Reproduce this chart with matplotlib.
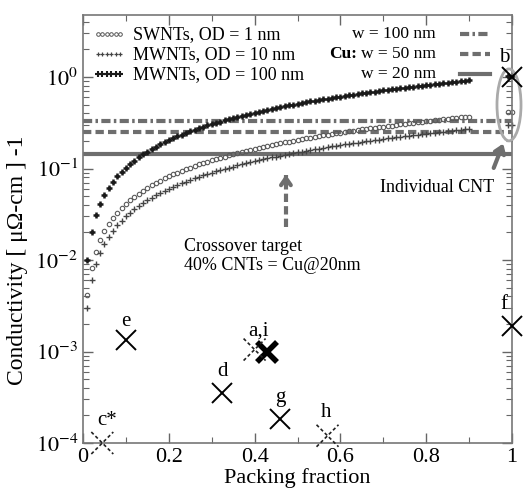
import numpy as np
import matplotlib
matplotlib.use('Agg')
import matplotlib.pyplot as plt
from matplotlib.patches import Ellipse

plt.rcParams['font.family'] = ['Liberation Serif', 'DejaVu Serif']
plt.rcParams['mathtext.fontset'] = 'stix'

# packing fraction of the modelled bundles
packing = [0.01, 0.02, 0.03, 0.04, 0.05, 0.06, 0.07, 0.08, 0.09, 0.10,
           0.11, 0.12, 0.13, 0.14, 0.15, 0.16, 0.17, 0.18, 0.19, 0.20,
           0.21, 0.22, 0.23, 0.24, 0.25, 0.26, 0.27, 0.28, 0.29, 0.30,
           0.31, 0.32, 0.33, 0.34, 0.35, 0.36, 0.37, 0.38, 0.39, 0.40,
           0.41, 0.42, 0.43, 0.44, 0.45, 0.46, 0.47, 0.48, 0.49, 0.50,
           0.51, 0.52, 0.53, 0.54, 0.55, 0.56, 0.57, 0.58, 0.59, 0.60,
           0.61, 0.62, 0.63, 0.64, 0.65, 0.66, 0.67, 0.68, 0.69, 0.70,
           0.71, 0.72, 0.73, 0.74, 0.75, 0.76, 0.77, 0.78, 0.79, 0.80,
           0.81, 0.82, 0.83, 0.84, 0.85, 0.86, 0.87, 0.88, 0.89, 0.90]

swnt_1nm = [0.0041, 0.0082, 0.0123, 0.0164, 0.0205, 0.0246, 0.0287, 0.0328, 0.0369, 0.041,
            0.0451, 0.0492, 0.0533, 0.0574, 0.0615, 0.0656, 0.0697, 0.0738, 0.0779, 0.082,
            0.0861, 0.0902, 0.0943, 0.0984, 0.1025, 0.1066, 0.1107, 0.1148, 0.1189, 0.123,
            0.127, 0.131, 0.135, 0.139, 0.144, 0.148, 0.152, 0.156, 0.160, 0.164,
            0.168, 0.172, 0.176, 0.180, 0.185, 0.189, 0.193, 0.197, 0.201, 0.205,
            0.209, 0.213, 0.217, 0.221, 0.226, 0.230, 0.234, 0.238, 0.242, 0.246,
            0.250, 0.254, 0.258, 0.262, 0.267, 0.271, 0.275, 0.279, 0.283, 0.287,
            0.291, 0.295, 0.299, 0.303, 0.308, 0.312, 0.316, 0.320, 0.324, 0.328,
            0.332, 0.336, 0.340, 0.344, 0.349, 0.353, 0.357, 0.361, 0.365, 0.369]

mwnt_10nm = [0.003, 0.006, 0.009, 0.012, 0.015, 0.018, 0.021, 0.024, 0.027, 0.030,
             0.033, 0.036, 0.039, 0.042, 0.045, 0.048, 0.051, 0.054, 0.057, 0.060,
             0.063, 0.066, 0.069, 0.072, 0.075, 0.078, 0.081, 0.084, 0.087, 0.090,
             0.093, 0.096, 0.099, 0.102, 0.105, 0.108, 0.111, 0.114, 0.117, 0.120,
             0.123, 0.126, 0.129, 0.132, 0.135, 0.138, 0.141, 0.144, 0.147, 0.150,
             0.153, 0.156, 0.159, 0.162, 0.165, 0.168, 0.171, 0.174, 0.177, 0.180,
             0.183, 0.186, 0.189, 0.192, 0.195, 0.198, 0.201, 0.204, 0.207, 0.210,
             0.213, 0.216, 0.219, 0.222, 0.225, 0.228, 0.231, 0.234, 0.237, 0.240,
             0.243, 0.246, 0.249, 0.252, 0.255, 0.258, 0.261, 0.264, 0.267, 0.270]

mwnt_100nm = [0.010, 0.020, 0.031, 0.041, 0.051, 0.061, 0.071, 0.082, 0.092, 0.102,
              0.112, 0.122, 0.133, 0.143, 0.153, 0.163, 0.173, 0.184, 0.194, 0.204,
              0.214, 0.224, 0.235, 0.245, 0.255, 0.265, 0.275, 0.286, 0.296, 0.306,
              0.316, 0.326, 0.337, 0.347, 0.357, 0.367, 0.377, 0.388, 0.398, 0.408,
              0.418, 0.428, 0.439, 0.449, 0.459, 0.469, 0.479, 0.490, 0.500, 0.510,
              0.520, 0.530, 0.541, 0.551, 0.561, 0.571, 0.581, 0.592, 0.602, 0.612,
              0.622, 0.632, 0.643, 0.653, 0.663, 0.673, 0.683, 0.694, 0.704, 0.714,
              0.724, 0.734, 0.745, 0.755, 0.765, 0.775, 0.785, 0.796, 0.806, 0.816,
              0.826, 0.836, 0.847, 0.857, 0.867, 0.877, 0.887, 0.898, 0.908, 0.918]

# individual CNT values (packing fraction 1)
cnt_x = [0.99, 1.0]
cnt_swnt = [0.41, 0.41]
cnt_mw10 = [0.30, 0.30]
cnt_mw100 = [1.02, 1.02]

# Cu interconnect conductivities
cu_w = ['w = 100 nm', 'w = 50 nm', 'w = 20 nm']
cu_sigma = [0.33, 0.25, 0.145]

# experimental results
exp_labels = ['e', 'a,i', 'd', 'g', 'f', 'b']
exp_x = [0.10, 0.43, 0.325, 0.46, 1.0, 1.0]
exp_y = [1.35e-3, 1.0e-3, 3.5e-4, 1.85e-4, 1.9e-3, 1.0]
exp_bold = [False, True, False, False, False, False]
dot_labels = ['c*', '', 'h']
dot_x = [0.045, 0.40, 0.57]
dot_y = [1.0e-4, 1.05e-3, 1.2e-4]

fig = plt.figure(figsize=(5.23, 4.93), dpi=100)
ax = fig.add_axes([83/523, 50/493, 429/523, 428/493])
ax.set_yscale('log')
ax.set_xlim(0, 1)
ax.set_ylim(1e-4, 4.76)

gray = '#6e6e6e'
styles = [(0, (2.2, 0.8, 0.6, 0.8)), (0, (2.0, 1.0)), '-']
for s, ls in zip(cu_sigma, styles):
    ax.axhline(s, color=gray, lw=3, ls=ls, zorder=2)

ax.plot(packing, swnt_1nm, 'o', ms=3.2, mfc='none', mec='#5a5a5a', mew=0.8, zorder=3)
ax.plot(packing, mwnt_10nm, '+', ms=4, mec='#444444', mew=1.0, zorder=3)
ax.plot(packing, mwnt_100nm, '+', ms=5, mec='#1a1a1a', mew=1.8, zorder=3)
ax.plot(cnt_x, cnt_swnt, 'o', ms=3.2, mfc='none', mec='#5a5a5a', mew=0.8, clip_on=False)
ax.plot(cnt_x, cnt_mw10, '+', ms=4, mec='#444444', mew=1.0, clip_on=False)
ax.plot(cnt_x, cnt_mw100, '+', ms=5, mec='#1a1a1a', mew=1.8, clip_on=False)

# solid crosses
for xv, yv, b in zip(exp_x, exp_y, exp_bold):
    ax.plot(xv, yv, 'x', ms=15, mec='black', mew=4 if b else 1.4, clip_on=False, zorder=5)

# dotted crosses, drawn in axes fractions from data positions
to_axes = ax.transData + ax.transAxes.inverted()
hx, hy = 11/429, 11/428
for xv, yv in zip(dot_x, dot_y):
    cx, cy = to_axes.transform((xv, yv))
    for sgn in (1, -1):
        ax.plot([cx - hx, cx + hx], [cy - sgn*hy, cy + sgn*hy], transform=ax.transAxes,
                color='#222222', lw=1.2, ls=(0, (2, 1.5)), clip_on=False, zorder=5)

lab_off = {'e': (0, 9), 'a,i': (-9, 11), 'd': (0, 12), 'g': (0, 12), 'f': (-8, 12), 'b': (-8, 10)}
for lab, xv, yv in zip(exp_labels, exp_x, exp_y):
    dx, dy = lab_off[lab]
    ax.annotate(lab, (xv, yv), xytext=(dx, dy), textcoords='offset pixels',
                ha='center', va='bottom', fontsize=15)
dot_off = {'c*': (5, 13), '': (0, 0), 'h': (-1, 14)}
for lab, xv, yv in zip(dot_labels, dot_x, dot_y):
    if lab:
        dx, dy = dot_off[lab]
        ax.annotate(lab, (xv, yv), xytext=(dx, dy), textcoords='offset pixels',
                    ha='center', va='bottom', fontsize=15)

# individual CNT highlight
ax.add_patch(Ellipse((0.993, 0.79), 0.056, 0.168, transform=ax.transAxes, fill=False,
                     ec='#aaaaaa', lw=2, clip_on=False, zorder=4))
ax.annotate('', xy=(0.982, 0.2), xytext=(0.955, 0.095),
            arrowprops=dict(arrowstyle='->,head_length=0.5,head_width=0.35', color=gray, lw=3))
ax.text(0.825, 0.062, 'Individual CNT', ha='center', va='center', fontsize=13)

# crossover target
ax.plot([0.473, 0.473], [0.023, 0.085], color=gray, lw=3, ls=(0, (2.0, 1.0)))
ax.annotate('', xy=(0.473, 0.092), xytext=(0.473, 0.07),
            arrowprops=dict(arrowstyle='->,head_length=0.5,head_width=0.35', color=gray, lw=3))
ax.text(0.235, 0.0175, 'Crossover target\n40% CNTs = Cu@20nm', ha='left', va='top',
        fontsize=13, linespacing=1.2)

# legend
rows = [0.955, 0.908, 0.861]
names = ['SWNTs, OD = 1 nm', 'MWNTs, OD = 10 nm', 'MWNTs, OD = 100 nm']
mk = [dict(marker='o', ms=2.6, mfc='none', mec='#555555', mew=0.7),
      dict(marker='+', ms=3.5, mec='#444444', mew=0.9),
      dict(marker='+', ms=4, mec='#1a1a1a', mew=1.5)]
for r, nm, m in zip(rows, names, mk):
    ax.plot(np.linspace(0.035, 0.086, 6), [r]*6, ls='none', transform=ax.transAxes, **m)
    ax.text(0.117, r, nm, transform=ax.transAxes, ha='left', va='center', fontsize=13)
cu_texts = []
for r, nm, ls in zip(rows, cu_w, styles):
    t = ax.text(0.823, r, nm, transform=ax.transAxes, ha='right', va='center', fontsize=12.5)
    cu_texts.append(t)
    ax.plot([0.879, 0.949], [r, r], transform=ax.transAxes, color=gray, lw=3, ls=ls)
ax.annotate('Cu:', xy=(0, 0), xycoords=cu_texts[1], xytext=(-3, 0), textcoords='offset points',
            ha='right', va='bottom', fontsize=12.5, fontweight='bold')

ax.set_xticks([0, 0.2, 0.4, 0.6, 0.8, 1.0])
ax.set_xticklabels(['0', '0.2', '0.4', '0.6', '0.8', '1'])
ax.set_xticks(np.arange(0.1, 1.0, 0.2), minor=True)
ax.set_yticks([1e-4, 1e-3, 1e-2, 1e-1, 1e0])
ax.set_yticklabels([r'$10^{-4}$', r'$10^{-3}$', r'$10^{-2}$', r'$10^{-1}$', r'$10^{0}$'])
ax.tick_params(which='both', direction='in', top=True, right=True, labelsize=16, color='#666666')
ax.tick_params(which='major', length=7, width=1)
ax.tick_params(which='minor', length=4, width=0.8)
for sp in ax.spines.values():
    sp.set_color('#777777')
    sp.set_linewidth(1.2)

ax.set_xlabel('Packing fraction', fontsize=16, labelpad=1)
ax.set_ylabel('Conductivity [ μΩ-cm ] -1', fontsize=17)
ax.yaxis.set_label_coords(-0.128, 0.428)

fig.savefig('out.png', dpi=100)
